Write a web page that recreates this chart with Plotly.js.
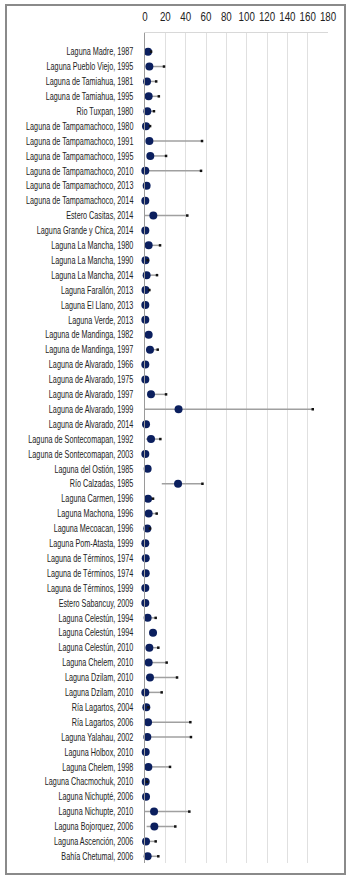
<!DOCTYPE html>
<html><head><meta charset="utf-8">
<script src="https://cdn.plot.ly/plotly-3.0.1.min.js"></script>
<style>
html,body{margin:0;padding:0;background:#fff;}
#frame{position:absolute;left:5px;top:4px;width:337px;height:867px;border:2px solid #8a8a8a;box-sizing:content-box;}
#chart{position:absolute;left:0;top:0;width:354px;height:887px;}
</style></head>
<body>
<div id="frame"></div>
<div id="chart"></div>
<script>
const labels = [
"Laguna Madre, 1987","Laguna Pueblo Viejo, 1995","Laguna de Tamiahua, 1981","Laguna de Tamiahua, 1995","Rio Tuxpan, 1980",
"Laguna de Tampamachoco, 1980","Laguna de Tampamachoco, 1991","Laguna de Tampamachoco, 1995","Laguna de Tampamachoco, 2010",
"Laguna de Tampamachoco, 2013","Laguna de Tampamachoco, 2014","Estero Casitas, 2014","Laguna Grande y Chica, 2014",
"Laguna La Mancha, 1980","Laguna La Mancha, 1990","Laguna La Mancha, 2014","Laguna Farallón, 2013","Laguna El Llano, 2013",
"Laguna Verde, 2013","Laguna de Mandinga, 1982","Laguna de Mandinga, 1997","Laguna de Alvarado, 1966","Laguna de Alvarado, 1975",
"Laguna de Alvarado, 1997","Laguna de Alvarado, 1999","Laguna de Alvarado, 2014","Laguna de Sontecomapan, 1992",
"Laguna de Sontecomapan, 2003","Laguna del Ostión, 1985","Río Calzadas, 1985","Laguna Carmen, 1996","Laguna Machona, 1996",
"Laguna Mecoacan, 1996","Laguna Pom-Atasta, 1999","Laguna de Términos, 1974","Laguna de Términos, 1974","Laguna de Términos, 1999",
"Estero Sabancuy, 2009","Laguna Celestún, 1994","Laguna Celestún, 1994","Laguna Celestún, 2010","Laguna Chelem, 2010",
"Laguna Dzilam, 2010","Laguna Dzilam, 2010","Ría Lagartos, 2004","Ría Lagartos, 2006","Laguna Yalahau, 2002","Laguna Holbox, 2010",
"Laguna Chelem, 1998","Laguna Chacmochuk, 2010","Laguna Nichupté, 2006","Laguna Nichupte, 2010","Laguna Bojorquez, 2006",
"Laguna Ascención, 2006","Bahía Chetumal, 2006"];

const means = [3,4.3,2,3.6,2.3,1,4.3,5.2,0.3,1.6,0.3,8.2,0.3,3.6,0.5,1.6,0.5,0.3,0.3,3.6,4.9,0.3,0.3,5.9,33,1,5.9,0.3,2.6,32.5,
3,3.6,2.3,0.3,0.7,0.7,0.3,0.3,2.6,7.9,4.3,3.6,4.9,0.3,1.3,3,2.3,0.7,3.3,0.7,1,8.9,9.2,1,2.6];
const errUpper = [3,14.4,9,10,6.5,4,51.8,15.5,54.8,0,0,33.4,0,11.2,2.1,10.2,3.8,0,0,0,7.6,0,0,14.8,132,0,9.2,0,0,24,
4.9,7.9,2.6,0,0,0,0,0,7.9,0,8.8,17.7,26.6,16.1,2,41.6,42.9,0,21.3,1.3,0,34.7,20.6,9.5,10.5];
const errLower = [0,0,0,0,0,0,0,0,0,0,0,8.2,0,0,0,0,0,0,0,0,0,0,0,0,33,0,5,0,0,16,
0,0,0,0,0,0,0,0,0,0,0,0,0,0,0,0,0,0,0,0,0,8.9,7.6,0,0];
const xTicks = [0,20,40,60,80,100,120,140,160,180];

const idx = labels.map((_, i) => i);
const capIdx = idx.filter(i => errUpper[i] > 0);
const capX = capIdx.map(i => means[i] + errUpper[i]);

const traces = [
  {type:'scatter', mode:'markers', x:means, y:idx,
   error_x:{type:'data', symmetric:false, array:errUpper, arrayminus:errLower, color:'#a0a0a0', thickness:1.5, width:0},
   marker:{color:'#0b1f5e', size:8}, hoverinfo:'x+text', text:labels, cliponaxis:false},
  {type:'scatter', mode:'markers', x:capX, y:capIdx,
   marker:{color:'#111', size:2.5, symbol:'square'}, hoverinfo:'skip'}
];

const font = "'Liberation Sans', Arial, sans-serif";
const layout = {
  width:354, height:887,
  margin:{l:145, r:26, t:33, b:24},
  paper_bgcolor:'rgba(0,0,0,0)', plot_bgcolor:'#fff',
  showlegend:false,
  font:{family:font, size:10, color:'#222'},
  xaxis:{side:'top', range:[0,180], tickvals:xTicks, ticktext:xTicks.map(String), showgrid:true,
         gridcolor:'#e0e0e0', gridwidth:1, zeroline:false, showline:true, linecolor:'#d8d8d8', mirror:false,
         ticks:'', tickangle:0, ticklabelstandoff:6, tickfont:{family:font, size:12.5, color:'#222'}, fixedrange:true},
  yaxis:{range:[54.45,-1.25], tickvals:idx, ticktext:labels, showgrid:false, zeroline:false,
         showline:true, linecolor:'#9a9a9a', linewidth:1.5, ticks:'', ticklabelstandoff:8,
         tickfont:{family:font, size:10.5, color:'#222'}, fixedrange:true}
};

function condense(gd) {
  const squeeze = (sel, k) => {
    gd.querySelectorAll(sel).forEach(t => {
      const x = parseFloat(t.getAttribute('x') || 0);
      const tr = t.getAttribute('transform') || '';
      t.setAttribute('transform', tr + ` translate(${x},0) scale(${k},1) translate(${-x},0)`);
    });
  };
  squeeze('.ytick text', 0.69);
  squeeze('.xtick text', 0.78);
}
Plotly.newPlot('chart', traces, layout, {displayModeBar:false, staticPlot:true}).then(condense);
</script>
</body></html>
